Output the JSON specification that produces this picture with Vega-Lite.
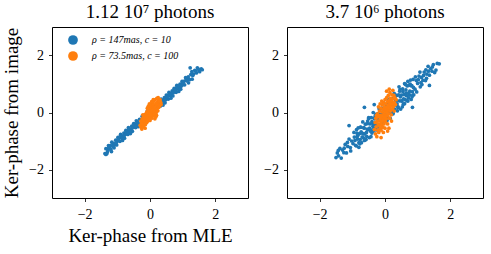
{
"$schema": "https://vega.github.io/schema/vega-lite/v6.json",
"background": "white",
"padding": {"left": 2, "top": 2, "right": 2, "bottom": 2},
"config": {
 "font": "Liberation Serif",
 "view": {"stroke": "black", "strokeWidth": 1},
 "axis": {"grid": false, "domain": false, "tickColor": "black", "tickSize": 3.5, "tickWidth": 0.8, "labelColor": "black", "labelFont": "Liberation Serif", "labelFontSize": 14, "labelPadding": 5, "titleFont": "Liberation Serif", "titleFontSize": 19, "titleFontWeight": "normal", "titleColor": "black"},
 "title": {"font": "Liberation Serif", "fontSize": 19, "fontWeight": "normal", "color": "black", "offset": 5}
},
"datasets": {"d": [
{"p":1,"s":"A","x":-1.38,"y":-1.44},{"p":1,"s":"A","x":-1.35,"y":-1.27},{"p":1,"s":"A","x":-1.32,"y":-1.44},{"p":1,"s":"A","x":-1.30,"y":-1.28},{"p":1,"s":"A","x":-1.27,"y":-1.16},{"p":1,"s":"A","x":-1.25,"y":-1.28},{"p":1,"s":"A","x":-1.22,"y":-1.16},{"p":1,"s":"A","x":-1.20,"y":-1.29},{"p":1,"s":"A","x":-1.17,"y":-1.04},{"p":1,"s":"A","x":-1.15,"y":-1.16},{"p":1,"s":"A","x":-1.12,"y":-1.08},{"p":1,"s":"A","x":-1.10,"y":-1.24},{"p":1,"s":"A","x":-1.07,"y":-1.13},{"p":1,"s":"A","x":-1.05,"y":-0.97},{"p":1,"s":"A","x":-1.02,"y":-1.14},{"p":1,"s":"A","x":-1.00,"y":-0.98},{"p":1,"s":"A","x":-0.98,"y":-0.87},{"p":1,"s":"A","x":-0.96,"y":-0.99},{"p":1,"s":"A","x":-0.94,"y":-0.88},{"p":1,"s":"A","x":-0.92,"y":-1.01},{"p":1,"s":"A","x":-0.90,"y":-0.77},{"p":1,"s":"A","x":-0.88,"y":-0.89},{"p":1,"s":"A","x":-0.86,"y":-0.82},{"p":1,"s":"A","x":-0.84,"y":-0.98},{"p":1,"s":"A","x":-0.82,"y":-0.88},{"p":1,"s":"A","x":-0.80,"y":-0.72},{"p":1,"s":"A","x":-0.78,"y":-0.90},{"p":1,"s":"A","x":-0.76,"y":-0.74},{"p":1,"s":"A","x":-0.74,"y":-0.63},{"p":1,"s":"A","x":-0.72,"y":-0.75},{"p":1,"s":"A","x":-0.70,"y":-0.64},{"p":1,"s":"A","x":-0.68,"y":-0.77},{"p":1,"s":"A","x":-0.66,"y":-0.53},{"p":1,"s":"A","x":-0.64,"y":-0.65},{"p":1,"s":"A","x":-0.62,"y":-0.58},{"p":1,"s":"A","x":-0.60,"y":-0.74},{"p":1,"s":"A","x":-0.58,"y":-0.64},{"p":1,"s":"A","x":-0.56,"y":-0.48},{"p":1,"s":"A","x":-0.54,"y":-0.66},{"p":1,"s":"A","x":-0.52,"y":-0.50},{"p":1,"s":"A","x":-0.50,"y":-0.39},{"p":1,"s":"A","x":-0.48,"y":-0.51},{"p":1,"s":"A","x":-0.46,"y":-0.40},{"p":1,"s":"A","x":-0.44,"y":-0.53},{"p":1,"s":"A","x":-0.42,"y":-0.29},{"p":1,"s":"A","x":-0.40,"y":-0.41},{"p":1,"s":"A","x":-0.38,"y":-0.34},{"p":1,"s":"A","x":-0.36,"y":-0.50},{"p":1,"s":"A","x":-0.34,"y":-0.40},{"p":1,"s":"A","x":-0.32,"y":-0.24},{"p":1,"s":"A","x":-0.30,"y":-0.42},{"p":1,"s":"A","x":-0.27,"y":-0.25},{"p":1,"s":"A","x":-0.24,"y":-0.13},{"p":1,"s":"A","x":-0.20,"y":-0.23},{"p":1,"s":"A","x":-0.16,"y":-0.10},{"p":1,"s":"A","x":-0.12,"y":-0.21},{"p":1,"s":"A","x":-0.08,"y":0.05},{"p":1,"s":"A","x":-0.04,"y":-0.05},{"p":1,"s":"A","x":0.00,"y":0.04},{"p":1,"s":"A","x":0.04,"y":-0.10},{"p":1,"s":"A","x":0.08,"y":0.02},{"p":1,"s":"A","x":0.12,"y":0.20},{"p":1,"s":"A","x":0.16,"y":0.04},{"p":1,"s":"A","x":0.20,"y":0.22},{"p":1,"s":"A","x":0.24,"y":0.35},{"p":1,"s":"A","x":0.27,"y":0.24},{"p":1,"s":"A","x":0.30,"y":0.36},{"p":1,"s":"A","x":0.32,"y":0.23},{"p":1,"s":"A","x":0.34,"y":0.47},{"p":1,"s":"A","x":0.36,"y":0.35},{"p":1,"s":"A","x":0.38,"y":0.42},{"p":1,"s":"A","x":0.40,"y":0.26},{"p":1,"s":"A","x":0.42,"y":0.36},{"p":1,"s":"A","x":0.44,"y":0.52},{"p":1,"s":"A","x":0.46,"y":0.34},{"p":1,"s":"A","x":0.48,"y":0.50},{"p":1,"s":"A","x":0.50,"y":0.61},{"p":1,"s":"A","x":0.52,"y":0.49},{"p":1,"s":"A","x":0.54,"y":0.60},{"p":1,"s":"A","x":0.56,"y":0.47},{"p":1,"s":"A","x":0.58,"y":0.71},{"p":1,"s":"A","x":0.60,"y":0.59},{"p":1,"s":"A","x":0.62,"y":0.66},{"p":1,"s":"A","x":0.64,"y":0.50},{"p":1,"s":"A","x":0.66,"y":0.60},{"p":1,"s":"A","x":0.68,"y":0.76},{"p":1,"s":"A","x":0.70,"y":0.58},{"p":1,"s":"A","x":0.72,"y":0.74},{"p":1,"s":"A","x":0.74,"y":0.85},{"p":1,"s":"A","x":0.76,"y":0.73},{"p":1,"s":"A","x":0.78,"y":0.84},{"p":1,"s":"A","x":0.80,"y":0.71},{"p":1,"s":"A","x":0.82,"y":0.95},{"p":1,"s":"A","x":0.84,"y":0.83},{"p":1,"s":"A","x":0.86,"y":0.90},{"p":1,"s":"A","x":0.88,"y":0.74},{"p":1,"s":"A","x":0.90,"y":0.84},{"p":1,"s":"A","x":0.92,"y":1.00},{"p":1,"s":"A","x":0.94,"y":0.82},{"p":1,"s":"A","x":0.96,"y":0.98},{"p":1,"s":"A","x":0.98,"y":1.09},{"p":1,"s":"A","x":1.00,"y":0.97},{"p":1,"s":"A","x":1.03,"y":1.09},{"p":1,"s":"A","x":1.06,"y":0.97},{"p":1,"s":"A","x":1.09,"y":1.22},{"p":1,"s":"A","x":1.12,"y":1.11},{"p":1,"s":"A","x":1.15,"y":1.19},{"p":1,"s":"A","x":1.18,"y":1.04},{"p":1,"s":"A","x":1.21,"y":1.15},{"p":1,"s":"A","x":1.25,"y":1.33},{"p":1,"s":"A","x":1.29,"y":1.17},{"p":1,"s":"A","x":1.33,"y":1.35},{"p":1,"s":"A","x":1.37,"y":1.48},{"p":1,"s":"A","x":1.42,"y":1.39},{"p":1,"s":"A","x":1.47,"y":1.53},{"p":1,"s":"A","x":1.52,"y":1.43},{"p":1,"s":"A","x":1.57,"y":1.53},{"p":1,"s":"A","x":1.60,"y":1.50},{"p":1,"s":"A","x":1.23,"y":1.57},{"p":1,"s":"A","x":1.45,"y":1.57},{"p":1,"s":"A","x":-1.35,"y":-1.47},{"p":1,"s":"A","x":1.28,"y":1.43},{"p":1,"s":"A","x":-1.18,"y":-1.37},
{"p":1,"s":"A","x":-1.30,"y":-1.37},{"p":1,"s":"A","x":-1.24,"y":-1.21},{"p":1,"s":"A","x":-1.13,"y":-1.20},{"p":1,"s":"A","x":-1.03,"y":-1.05},{"p":1,"s":"A","x":-0.97,"y":-0.93},{"p":1,"s":"A","x":-0.91,"y":-0.84},{"p":1,"s":"A","x":-0.85,"y":-0.90},{"p":1,"s":"A","x":-0.79,"y":-0.81},{"p":1,"s":"A","x":-0.73,"y":-0.69},{"p":1,"s":"A","x":-0.67,"y":-0.71},{"p":1,"s":"A","x":-0.61,"y":-0.66},{"p":1,"s":"A","x":-0.55,"y":-0.55},{"p":1,"s":"A","x":-0.49,"y":-0.45},{"p":1,"s":"A","x":-0.43,"y":-0.47},{"p":1,"s":"A","x":-0.37,"y":-0.41},{"p":1,"s":"A","x":0.35,"y":0.40},{"p":1,"s":"A","x":0.41,"y":0.43},{"p":1,"s":"A","x":0.47,"y":0.44},{"p":1,"s":"A","x":0.53,"y":0.56},{"p":1,"s":"A","x":0.59,"y":0.64},{"p":1,"s":"A","x":0.65,"y":0.68},{"p":1,"s":"A","x":0.71,"y":0.69},{"p":1,"s":"A","x":0.77,"y":0.78},{"p":1,"s":"A","x":0.83,"y":0.89},{"p":1,"s":"A","x":0.89,"y":0.94},{"p":1,"s":"A","x":0.95,"y":0.92},{"p":1,"s":"A","x":1.01,"y":1.04},{"p":1,"s":"A","x":1.10,"y":1.14},{"p":1,"s":"A","x":1.17,"y":1.25},{"p":1,"s":"A","x":1.31,"y":1.30},{"p":1,"s":"A","x":1.40,"y":1.45},{"p":1,"s":"A","x":1.50,"y":1.50},
{"p":2,"s":"A","x":-1.50,"y":-1.58},{"p":2,"s":"A","x":-1.46,"y":-1.42},{"p":2,"s":"A","x":-1.42,"y":-1.52},{"p":2,"s":"A","x":-1.38,"y":-1.26},{"p":2,"s":"A","x":-1.34,"y":-1.60},{"p":2,"s":"A","x":-1.30,"y":-1.32},{"p":2,"s":"A","x":-1.26,"y":-1.41},{"p":2,"s":"A","x":-1.22,"y":-1.12},{"p":2,"s":"A","x":-1.18,"y":-1.42},{"p":2,"s":"A","x":-1.14,"y":-1.19},{"p":2,"s":"A","x":-1.10,"y":-0.93},{"p":2,"s":"A","x":-1.06,"y":-1.23},{"p":2,"s":"A","x":-1.02,"y":-1.00},{"p":2,"s":"A","x":-0.98,"y":-1.09},{"p":2,"s":"A","x":-0.94,"y":-0.86},{"p":2,"s":"A","x":-0.90,"y":-1.15},
{"p":2,"s":"A","x":-0.88,"y":-1.17},{"p":2,"s":"A","x":-0.86,"y":-0.72},{"p":2,"s":"A","x":-0.84,"y":-0.93},{"p":2,"s":"A","x":-0.82,"y":-0.54},{"p":2,"s":"A","x":-0.80,"y":-1.22},{"p":2,"s":"A","x":-0.78,"y":-0.74},{"p":2,"s":"A","x":-0.76,"y":-0.95},{"p":2,"s":"A","x":-0.74,"y":-0.52},{"p":2,"s":"A","x":-0.72,"y":-1.06},{"p":2,"s":"A","x":-0.70,"y":-0.72},{"p":2,"s":"A","x":-0.68,"y":-0.33},{"p":2,"s":"A","x":-0.66,"y":-0.89},{"p":2,"s":"A","x":-0.64,"y":-0.55},{"p":2,"s":"A","x":-0.62,"y":-0.75},{"p":2,"s":"A","x":-0.60,"y":-0.41},{"p":2,"s":"A","x":-0.58,"y":-0.95},{"p":2,"s":"A","x":-0.56,"y":-0.84},{"p":2,"s":"A","x":-0.54,"y":-0.39},{"p":2,"s":"A","x":-0.52,"y":-0.60},{"p":2,"s":"A","x":-0.50,"y":-0.21},{"p":2,"s":"A","x":-0.48,"y":-0.88},{"p":2,"s":"A","x":-0.46,"y":-0.40},{"p":2,"s":"A","x":-0.44,"y":-0.61},{"p":2,"s":"A","x":-0.42,"y":-0.18},{"p":2,"s":"A","x":-0.40,"y":-0.72},{"p":2,"s":"A","x":-0.38,"y":-0.38},{"p":2,"s":"A","x":-0.36,"y":0.00},{"p":2,"s":"A","x":-0.34,"y":-0.56},{"p":2,"s":"A","x":-0.32,"y":-0.22},{"p":2,"s":"A","x":-0.30,"y":-0.42},{"p":2,"s":"A","x":-0.28,"y":-0.07},{"p":2,"s":"A","x":-0.26,"y":-0.61},{"p":2,"s":"A","x":-0.24,"y":-0.50},{"p":2,"s":"A","x":-0.22,"y":-0.05},{"p":2,"s":"A","x":-0.20,"y":-0.26},{"p":2,"s":"A","x":-0.18,"y":0.13},{"p":2,"s":"A","x":-0.16,"y":-0.55},{"p":2,"s":"A","x":-0.14,"y":-0.07},{"p":2,"s":"A","x":-0.12,"y":-0.28},{"p":2,"s":"A","x":-0.10,"y":0.15},{"p":2,"s":"A","x":-0.08,"y":-0.38},{"p":2,"s":"A","x":-0.06,"y":-0.04},{"p":2,"s":"A","x":-0.04,"y":0.34},{"p":2,"s":"A","x":-0.02,"y":-0.22},{"p":2,"s":"A","x":0.00,"y":0.12},{"p":2,"s":"A","x":0.02,"y":-0.08},{"p":2,"s":"A","x":0.04,"y":0.26},{"p":2,"s":"A","x":0.06,"y":-0.28},{"p":2,"s":"A","x":0.08,"y":-0.17},{"p":2,"s":"A","x":0.10,"y":0.29},{"p":2,"s":"A","x":0.12,"y":0.08},{"p":2,"s":"A","x":0.14,"y":0.47},{"p":2,"s":"A","x":0.16,"y":-0.21},{"p":2,"s":"A","x":0.18,"y":0.27},{"p":2,"s":"A","x":0.20,"y":0.06},{"p":2,"s":"A","x":0.22,"y":0.49},{"p":2,"s":"A","x":0.24,"y":-0.05},{"p":2,"s":"A","x":0.26,"y":0.29},{"p":2,"s":"A","x":0.28,"y":0.67},{"p":2,"s":"A","x":0.30,"y":0.12},{"p":2,"s":"A","x":0.32,"y":0.46},{"p":2,"s":"A","x":0.34,"y":0.26},{"p":2,"s":"A","x":0.36,"y":0.60},{"p":2,"s":"A","x":0.38,"y":0.06},{"p":2,"s":"A","x":0.40,"y":0.17},{"p":2,"s":"A","x":0.42,"y":0.62},{"p":2,"s":"A","x":0.44,"y":0.41},{"p":2,"s":"A","x":0.46,"y":0.80},{"p":2,"s":"A","x":0.48,"y":0.12},{"p":2,"s":"A","x":0.50,"y":0.61},{"p":2,"s":"A","x":0.52,"y":0.40},{"p":2,"s":"A","x":0.54,"y":0.83},{"p":2,"s":"A","x":0.56,"y":0.29},{"p":2,"s":"A","x":0.58,"y":0.63},{"p":2,"s":"A","x":0.60,"y":1.01},{"p":2,"s":"A","x":0.62,"y":0.45},{"p":2,"s":"A","x":0.64,"y":0.79},{"p":2,"s":"A","x":0.66,"y":0.59},{"p":2,"s":"A","x":0.68,"y":0.93},{"p":2,"s":"A","x":0.70,"y":0.40},{"p":2,"s":"A","x":0.72,"y":0.51},{"p":2,"s":"A","x":0.74,"y":0.96},{"p":2,"s":"A","x":0.76,"y":0.75},{"p":2,"s":"A","x":0.78,"y":1.14},{"p":2,"s":"A","x":0.80,"y":0.46},{"p":2,"s":"A","x":0.82,"y":0.94},{"p":2,"s":"A","x":0.84,"y":0.73},{"p":2,"s":"A","x":0.86,"y":1.16},{"p":2,"s":"A","x":0.88,"y":0.62},
{"p":2,"s":"A","x":0.92,"y":0.82},{"p":2,"s":"A","x":0.96,"y":1.12},{"p":2,"s":"A","x":1.00,"y":1.02},{"p":2,"s":"A","x":1.04,"y":1.28},{"p":2,"s":"A","x":1.08,"y":0.90},{"p":2,"s":"A","x":1.12,"y":1.23},{"p":2,"s":"A","x":1.16,"y":1.13},{"p":2,"s":"A","x":1.20,"y":1.42},{"p":2,"s":"A","x":1.24,"y":1.12},{"p":2,"s":"A","x":1.28,"y":1.35},{"p":2,"s":"A","x":1.32,"y":1.62},{"p":2,"s":"A","x":1.36,"y":1.31},{"p":2,"s":"A","x":1.40,"y":1.54},{"p":2,"s":"A","x":1.44,"y":1.45},{"p":2,"s":"A","x":1.48,"y":1.68},{"p":2,"s":"A","x":1.52,"y":1.40},{"p":2,"s":"A","x":1.56,"y":1.49},{"p":2,"s":"A","x":1.60,"y":1.72},{"p":2,"s":"A","x":1.66,"y":1.71},
{"p":2,"s":"A","x":1.36,"y":0.95},{"p":2,"s":"A","x":0.84,"y":0.18},{"p":2,"s":"A","x":-1.10,"y":-0.46},{"p":2,"s":"A","x":-0.63,"y":0.18},{"p":2,"s":"A","x":-0.33,"y":0.28},{"p":2,"s":"A","x":-1.43,"y":-1.33},
{"p":2,"s":"A","x":-0.85,"y":-0.84},{"p":2,"s":"A","x":-0.80,"y":-1.06},{"p":2,"s":"A","x":-0.75,"y":-0.51},{"p":2,"s":"A","x":-0.70,"y":-0.86},{"p":2,"s":"A","x":-0.65,"y":-0.53},{"p":2,"s":"A","x":-0.60,"y":-0.95},{"p":2,"s":"A","x":-0.55,"y":-0.58},{"p":2,"s":"A","x":-0.50,"y":-0.18},{"p":2,"s":"A","x":-0.45,"y":-0.65},{"p":2,"s":"A","x":-0.40,"y":-0.32},{"p":2,"s":"A","x":-0.35,"y":-0.65},{"p":2,"s":"A","x":-0.30,"y":-0.12},{"p":2,"s":"A","x":-0.25,"y":-0.21},{"p":2,"s":"A","x":-0.20,"y":-0.43},{"p":2,"s":"A","x":-0.15,"y":0.12},{"p":2,"s":"A","x":-0.10,"y":-0.23},{"p":2,"s":"A","x":-0.05,"y":0.10},{"p":2,"s":"A","x":0.00,"y":-0.32},{"p":2,"s":"A","x":0.05,"y":0.05},{"p":2,"s":"A","x":0.10,"y":0.46},{"p":2,"s":"A","x":0.15,"y":-0.02},{"p":2,"s":"A","x":0.20,"y":0.31},{"p":2,"s":"A","x":0.25,"y":-0.02},{"p":2,"s":"A","x":0.30,"y":0.52},{"p":2,"s":"A","x":0.35,"y":0.42},{"p":2,"s":"A","x":0.40,"y":0.20},{"p":2,"s":"A","x":0.45,"y":0.75},{"p":2,"s":"A","x":0.50,"y":0.41},{"p":2,"s":"A","x":0.55,"y":0.73},{"p":2,"s":"A","x":0.60,"y":0.31},{"p":2,"s":"A","x":0.65,"y":0.68},{"p":2,"s":"A","x":0.70,"y":1.09},{"p":2,"s":"A","x":0.75,"y":0.61},{"p":2,"s":"A","x":0.80,"y":0.94},{"p":2,"s":"A","x":0.85,"y":0.61},
{"p":2,"s":"A","x":-1.25,"y":-1.25},{"p":2,"s":"A","x":-1.15,"y":-1.05},{"p":2,"s":"A","x":-1.05,"y":-1.35},{"p":2,"s":"A","x":-0.95,"y":-0.70},{"p":2,"s":"A","x":-0.92,"y":-0.98},{"p":2,"s":"A","x":-0.87,"y":-0.60},{"p":2,"s":"A","x":-0.83,"y":-0.80},{"p":2,"s":"A","x":-0.77,"y":-1.10},{"p":2,"s":"A","x":-0.73,"y":-0.68},{"p":2,"s":"A","x":-0.67,"y":-0.75},{"p":2,"s":"A","x":-0.63,"y":-0.98},{"p":2,"s":"A","x":-0.57,"y":-0.70},{"p":2,"s":"A","x":-0.53,"y":-0.30},{"p":2,"s":"A","x":-0.47,"y":-0.55},{"p":2,"s":"A","x":-0.43,"y":-0.85},{"p":2,"s":"A","x":-0.37,"y":-0.48},{"p":2,"s":"A","x":-0.33,"y":-0.20},{"p":2,"s":"A","x":0.33,"y":0.60},{"p":2,"s":"A","x":0.37,"y":0.30},{"p":2,"s":"A","x":0.43,"y":0.90},{"p":2,"s":"A","x":0.47,"y":0.55},{"p":2,"s":"A","x":0.53,"y":0.20},{"p":2,"s":"A","x":0.57,"y":0.48},{"p":2,"s":"A","x":0.63,"y":0.98},{"p":2,"s":"A","x":0.67,"y":0.42},{"p":2,"s":"A","x":0.73,"y":0.68},{"p":2,"s":"A","x":0.77,"y":1.00},{"p":2,"s":"A","x":0.83,"y":0.55},{"p":2,"s":"A","x":0.87,"y":0.88},{"p":2,"s":"A","x":0.93,"y":1.25},{"p":2,"s":"A","x":0.97,"y":0.72},{"p":2,"s":"A","x":1.02,"y":1.15},{"p":2,"s":"A","x":1.07,"y":1.42},{"p":2,"s":"A","x":1.13,"y":0.98},{"p":2,"s":"A","x":1.18,"y":1.30},{"p":2,"s":"A","x":1.27,"y":1.20},{"p":2,"s":"A","x":1.33,"y":1.45},{"p":2,"s":"A","x":1.45,"y":1.60},{"p":2,"s":"A","x":1.25,"y":1.50},{"p":2,"s":"A","x":1.10,"y":1.05},
{"p":1,"s":"B","x":-0.30,"y":-0.45},{"p":1,"s":"B","x":-0.28,"y":-0.30},{"p":1,"s":"B","x":-0.27,"y":-0.52},{"p":1,"s":"B","x":-0.25,"y":-0.38},{"p":1,"s":"B","x":-0.24,"y":-0.22},{"p":1,"s":"B","x":-0.22,"y":-0.45},{"p":1,"s":"B","x":-0.21,"y":-0.30},{"p":1,"s":"B","x":-0.20,"y":-0.15},{"p":1,"s":"B","x":-0.19,"y":-0.40},{"p":1,"s":"B","x":-0.18,"y":-0.25},{"p":1,"s":"B","x":-0.17,"y":-0.08},{"p":1,"s":"B","x":-0.16,"y":-0.33},{"p":1,"s":"B","x":-0.15,"y":-0.18},{"p":1,"s":"B","x":-0.14,"y":-0.42},{"p":1,"s":"B","x":-0.13,"y":-0.05},{"p":1,"s":"B","x":-0.12,"y":-0.28},{"p":1,"s":"B","x":-0.11,"y":-0.12},{"p":1,"s":"B","x":-0.10,"y":-0.35},{"p":1,"s":"B","x":-0.10,"y":0.02},{"p":1,"s":"B","x":-0.09,"y":-0.20},{"p":1,"s":"B","x":-0.08,"y":-0.06},{"p":1,"s":"B","x":-0.07,"y":-0.30},{"p":1,"s":"B","x":-0.06,"y":0.10},{"p":1,"s":"B","x":-0.06,"y":-0.14},{"p":1,"s":"B","x":-0.05,"y":-0.02},{"p":1,"s":"B","x":-0.04,"y":-0.24},{"p":1,"s":"B","x":-0.03,"y":0.06},{"p":1,"s":"B","x":-0.02,"y":-0.10},{"p":1,"s":"B","x":-0.01,"y":0.18},{"p":1,"s":"B","x":0.00,"y":-0.04},{"p":1,"s":"B","x":0.00,"y":-0.28},{"p":1,"s":"B","x":0.01,"y":0.12},{"p":1,"s":"B","x":0.02,"y":-0.16},{"p":1,"s":"B","x":0.03,"y":0.04},{"p":1,"s":"B","x":0.04,"y":0.25},{"p":1,"s":"B","x":0.04,"y":-0.08},{"p":1,"s":"B","x":0.05,"y":0.14},{"p":1,"s":"B","x":0.06,"y":-0.20},{"p":1,"s":"B","x":0.07,"y":0.08},{"p":1,"s":"B","x":0.08,"y":0.32},{"p":1,"s":"B","x":0.08,"y":-0.02},{"p":1,"s":"B","x":0.09,"y":0.20},{"p":1,"s":"B","x":0.10,"y":-0.12},{"p":1,"s":"B","x":0.11,"y":0.12},{"p":1,"s":"B","x":0.12,"y":0.40},{"p":1,"s":"B","x":0.12,"y":0.02},{"p":1,"s":"B","x":0.13,"y":0.26},{"p":1,"s":"B","x":0.14,"y":-0.06},{"p":1,"s":"B","x":0.15,"y":0.18},{"p":1,"s":"B","x":0.16,"y":0.45},{"p":1,"s":"B","x":0.17,"y":0.08},{"p":1,"s":"B","x":0.18,"y":0.32},{"p":1,"s":"B","x":0.19,"y":0.00},{"p":1,"s":"B","x":0.20,"y":0.22},{"p":1,"s":"B","x":0.21,"y":0.50},{"p":1,"s":"B","x":0.22,"y":0.14},{"p":1,"s":"B","x":0.23,"y":0.36},{"p":1,"s":"B","x":0.24,"y":0.06},{"p":1,"s":"B","x":0.25,"y":0.28},{"p":1,"s":"B","x":0.26,"y":0.45},{"p":1,"s":"B","x":0.27,"y":0.18},{"p":1,"s":"B","x":0.28,"y":0.38},{"p":1,"s":"B","x":0.30,"y":0.25},{"p":1,"s":"B","x":0.31,"y":0.45},{"p":1,"s":"B","x":0.33,"y":0.35},{"p":1,"s":"B","x":0.34,"y":0.28},{"p":1,"s":"B","x":0.05,"y":0.38},{"p":1,"s":"B","x":0.10,"y":0.45},{"p":1,"s":"B","x":-0.02,"y":0.30},{"p":1,"s":"B","x":0.00,"y":0.28},{"p":1,"s":"B","x":-0.05,"y":0.22},{"p":1,"s":"B","x":0.15,"y":-0.22},{"p":1,"s":"B","x":0.20,"y":-0.10},{"p":1,"s":"B","x":-0.15,"y":-0.55},{"p":1,"s":"B","x":-0.22,"y":-0.08},{"p":1,"s":"B","x":-0.25,"y":-0.58},{"p":1,"s":"B","x":-0.26,"y":-0.40},{"p":1,"s":"B","x":-0.20,"y":-0.50},{"p":1,"s":"B","x":0.30,"y":0.40},{"p":1,"s":"B","x":0.25,"y":0.52},{"p":1,"s":"B","x":-0.08,"y":0.15},{"p":1,"s":"B","x":0.18,"y":-0.15},
{"p":2,"s":"B","x":-0.32,"y":-0.60},{"p":2,"s":"B","x":-0.30,"y":-0.35},{"p":2,"s":"B","x":-0.29,"y":-0.75},{"p":2,"s":"B","x":-0.28,"y":-0.20},{"p":2,"s":"B","x":-0.27,"y":-0.50},{"p":2,"s":"B","x":-0.25,"y":-0.85},{"p":2,"s":"B","x":-0.24,"y":-0.30},{"p":2,"s":"B","x":-0.23,"y":-0.05},{"p":2,"s":"B","x":-0.22,"y":-0.62},{"p":2,"s":"B","x":-0.21,"y":-0.40},{"p":2,"s":"B","x":-0.20,"y":-0.15},{"p":2,"s":"B","x":-0.19,"y":-0.70},{"p":2,"s":"B","x":-0.18,"y":-0.45},{"p":2,"s":"B","x":-0.17,"y":0.05},{"p":2,"s":"B","x":-0.16,"y":-0.28},{"p":2,"s":"B","x":-0.15,"y":-0.55},{"p":2,"s":"B","x":-0.14,"y":-0.10},{"p":2,"s":"B","x":-0.13,"y":-0.38},{"p":2,"s":"B","x":-0.12,"y":0.15},{"p":2,"s":"B","x":-0.12,"y":-0.62},{"p":2,"s":"B","x":-0.11,"y":-0.20},{"p":2,"s":"B","x":-0.10,"y":-0.45},{"p":2,"s":"B","x":-0.09,"y":0.02},{"p":2,"s":"B","x":-0.08,"y":-0.30},{"p":2,"s":"B","x":-0.08,"y":0.28},{"p":2,"s":"B","x":-0.07,"y":-0.12},{"p":2,"s":"B","x":-0.06,"y":-0.52},{"p":2,"s":"B","x":-0.05,"y":0.10},{"p":2,"s":"B","x":-0.05,"y":-0.25},{"p":2,"s":"B","x":-0.04,"y":0.35},{"p":2,"s":"B","x":-0.03,"y":-0.05},{"p":2,"s":"B","x":-0.03,"y":-0.40},{"p":2,"s":"B","x":-0.02,"y":0.20},{"p":2,"s":"B","x":-0.01,"y":-0.18},{"p":2,"s":"B","x":0.00,"y":0.05},{"p":2,"s":"B","x":0.00,"y":0.45},{"p":2,"s":"B","x":0.01,"y":-0.32},{"p":2,"s":"B","x":0.02,"y":0.12},{"p":2,"s":"B","x":0.02,"y":-0.08},{"p":2,"s":"B","x":0.03,"y":0.30},{"p":2,"s":"B","x":0.04,"y":-0.22},{"p":2,"s":"B","x":0.05,"y":0.02},{"p":2,"s":"B","x":0.05,"y":0.52},{"p":2,"s":"B","x":0.06,"y":0.18},{"p":2,"s":"B","x":0.07,"y":-0.12},{"p":2,"s":"B","x":0.08,"y":0.38},{"p":2,"s":"B","x":0.08,"y":-0.40},{"p":2,"s":"B","x":0.09,"y":0.08},{"p":2,"s":"B","x":0.10,"y":0.25},{"p":2,"s":"B","x":0.10,"y":0.60},{"p":2,"s":"B","x":0.11,"y":-0.05},{"p":2,"s":"B","x":0.12,"y":0.42},{"p":2,"s":"B","x":0.13,"y":0.15},{"p":2,"s":"B","x":0.14,"y":-0.20},{"p":2,"s":"B","x":0.15,"y":0.32},{"p":2,"s":"B","x":0.15,"y":0.70},{"p":2,"s":"B","x":0.16,"y":0.05},{"p":2,"s":"B","x":0.17,"y":0.50},{"p":2,"s":"B","x":0.18,"y":0.22},{"p":2,"s":"B","x":0.19,"y":-0.08},{"p":2,"s":"B","x":0.20,"y":0.40},{"p":2,"s":"B","x":0.21,"y":0.62},{"p":2,"s":"B","x":0.22,"y":0.12},{"p":2,"s":"B","x":0.23,"y":0.30},{"p":2,"s":"B","x":0.24,"y":0.78},{"p":2,"s":"B","x":0.25,"y":0.48},{"p":2,"s":"B","x":0.26,"y":0.20},{"p":2,"s":"B","x":0.27,"y":0.60},{"p":2,"s":"B","x":0.28,"y":0.35},{"p":2,"s":"B","x":0.30,"y":0.52},{"p":2,"s":"B","x":0.32,"y":0.28},{"p":2,"s":"B","x":0.34,"y":0.45},{"p":2,"s":"B","x":-0.26,"y":-0.10},{"p":2,"s":"B","x":-0.20,"y":0.20},{"p":2,"s":"B","x":-0.15,"y":0.30},{"p":2,"s":"B","x":0.12,"y":-0.55},{"p":2,"s":"B","x":0.20,"y":-0.30},{"p":2,"s":"B","x":-0.12,"y":-0.88},{"p":2,"s":"B","x":0.05,"y":0.75},{"p":2,"s":"B","x":0.13,"y":0.82},{"p":2,"s":"B","x":-0.05,"y":-0.70},{"p":2,"s":"B","x":0.00,"y":-0.55},{"p":2,"s":"B","x":0.28,"y":0.05},{"p":2,"s":"B","x":-0.10,"y":0.40},{"p":2,"s":"B","x":0.08,"y":-0.65}
]},
"spacing": 14,
"resolve": {"legend": {"color": "independent"}},
"hconcat": [
 {
  "width": 196, "height": 171,
  "title": {"text": "1.12 10⁷ photons"},
  "data": {"name": "d"},
  "transform": [{"filter": "datum.p == 1"}],
  "mark": {"type": "circle", "size": 14, "opacity": 1},
  "encoding": {
   "x": {"field": "x", "type": "quantitative", "scale": {"domain": [-3, 3], "nice": false}, "axis": {"values": [-2, 0, 2], "labelFont": "Liberation Serif", "labelPadding": 6, "title": "Ker-phase from MLE", "titlePadding": 5}},
   "y": {"field": "y", "type": "quantitative", "scale": {"domain": [-3, 3], "nice": false}, "axis": {"values": [-2, 0, 2], "labelFont": "Liberation Serif", "title": "Ker-phase from image", "titlePadding": 7}},
   "color": {"field": "s", "type": "nominal", "scale": {"domain": ["A", "B"], "range": ["#1f77b4", "#ff7f0e"]},
     "legend": {"orient": "none", "legendX": 16, "legendY": 8, "title": null, "padding": 0, "symbolType": "circle", "symbolSize": 95, "symbolOpacity": 1, "symbolStrokeWidth": 0, "labelFont": "Liberation Serif", "labelFontStyle": "italic", "labelFontSize": 10, "labelColor": "black", "labelOffset": 14, "rowPadding": 6,
       "labelExpr": "datum.label == 'A' ? 'ρ = 147mas,  c = 10' : 'ρ = 73.5mas, c = 100'"}}
  }
 },
 {
  "width": 196, "height": 171,
  "title": {"text": "3.7 10⁶ photons"},
  "data": {"name": "d"},
  "transform": [{"filter": "datum.p == 2"}],
  "mark": {"type": "circle", "size": 14, "opacity": 1},
  "encoding": {
   "x": {"field": "x", "type": "quantitative", "scale": {"domain": [-3, 3], "nice": false}, "axis": {"values": [-2, 0, 2], "labelFont": "Liberation Serif", "labelPadding": 6, "title": null}},
   "y": {"field": "y", "type": "quantitative", "scale": {"domain": [-3, 3], "nice": false}, "axis": {"values": [-2, 0, 2], "labelFont": "Liberation Serif", "title": null}},
   "color": {"field": "s", "type": "nominal", "scale": {"domain": ["A", "B"], "range": ["#1f77b4", "#ff7f0e"]}, "legend": null}
  }
 }
]
}
